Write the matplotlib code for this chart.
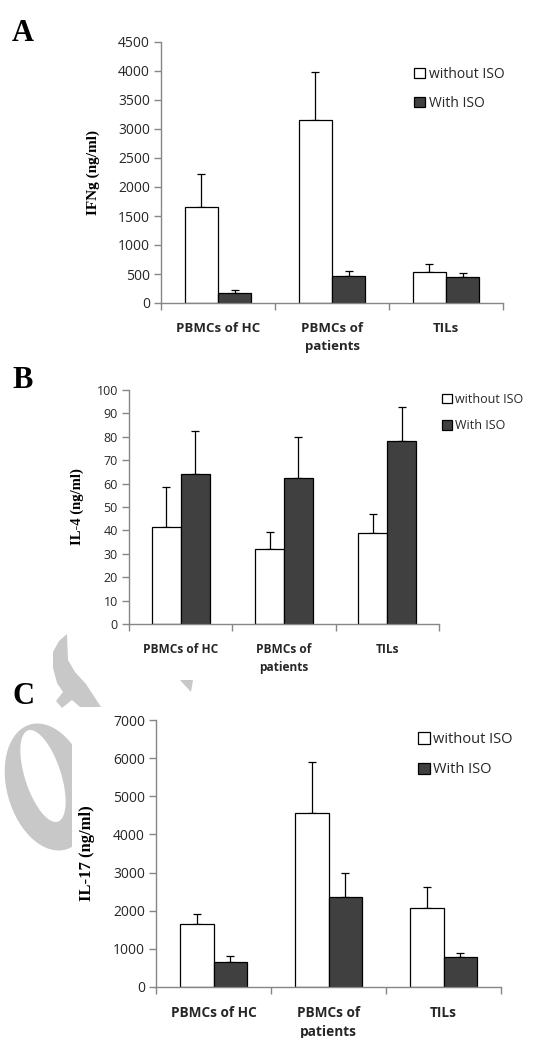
import matplotlib.pyplot as plt
from matplotlib.patches import Patch, Polygon, Rectangle, Ellipse

categories = ["PBMCs of HC", "PBMCs of\npatients", "TILs"]
series_names = ["without ISO", "With ISO"]

# panel A: IFNg
ifng_without = [1660, 3150, 540]
ifng_without_err = [565, 835, 130]
ifng_with = [165, 470, 440]
ifng_with_err = [60, 80, 75]

# panel B: IL-4
il4_without = [41.5, 32.2, 39.0]
il4_without_err = [17.2, 7.3, 8.2]
il4_with = [64.0, 62.5, 78.2]
il4_with_err = [18.6, 17.3, 14.7]

# panel C: IL-17
il17_without = [1640, 4560, 2065]
il17_without_err = [280, 1330, 560]
il17_with = [660, 2370, 790]
il17_with_err = [140, 620, 95]

W, H = 543, 1038
fig = plt.figure(figsize=(W / 100, H / 100), dpi=100)

AXIS_GRAY = "#868686"
TEXT = "#262626"
DARK = "#404040"
MARK = "#c8c8c8"


def fx(px):
    return px / W


def fy(py):
    return 1 - py / H


def inch(px, py):
    # pixel position from top-left -> inches from bottom-left
    return (px / 100, (H - py) / 100)


def px_axes(left, top, right, bottom):
    return fig.add_axes([fx(left), fy(bottom), (right - left) / W, (bottom - top) / H])


def panel(ax, without, without_err, with_, with_err, ymax, ystep, ylabel,
          barw, tick_fs, xlab_fs, ylab_fs, leg_fs, leg_pos, leg_space):
    x = range(len(categories))
    xl = [i - barw / 2 for i in x]
    xr = [i + barw / 2 for i in x]
    ax.bar(xl, without, barw, color="white", edgecolor="black", linewidth=0.9, zorder=2)
    ax.bar(xr, with_, barw, color=DARK, edgecolor="black", linewidth=0.9, zorder=2)
    ax.errorbar(xl, without, yerr=[[0] * 3, without_err], fmt="none", ecolor="black",
                elinewidth=0.9, capsize=3, capthick=0.9, zorder=1)
    ax.errorbar(xr, with_, yerr=[[0] * 3, with_err], fmt="none", ecolor="black",
                elinewidth=0.9, capsize=3, capthick=0.9, zorder=1)
    ax.set_xlim(-0.5, len(categories) - 0.5)
    ax.set_ylim(0, ymax)
    ax.set_yticks(range(0, ymax + 1, ystep))
    ax.set_xticks([-0.5, 0.5, 1.5, 2.5])
    ax.set_xticklabels([])
    ax.set_xticks(list(x), minor=True)
    ax.set_xticklabels(categories, minor=True, fontsize=xlab_fs, fontweight="bold",
                       family="Open Sans", color=TEXT, linespacing=1.45)
    ax.tick_params(axis="x", which="minor", length=0, pad=14)
    ax.tick_params(axis="x", which="major", length=5, width=1, color=AXIS_GRAY, direction="out")
    ax.tick_params(axis="y", length=5, width=1, color=AXIS_GRAY, labelsize=tick_fs,
                   labelcolor=TEXT, pad=3)
    for lab in ax.get_yticklabels():
        lab.set_family("Open Sans")
    for s in ["top", "right"]:
        ax.spines[s].set_visible(False)
    for s in ["left", "bottom"]:
        ax.spines[s].set_color(AXIS_GRAY)
        ax.spines[s].set_linewidth(1)
    ax.set_ylabel(ylabel, family="Liberation Serif", fontweight="bold", fontsize=ylab_fs)
    handles = [Patch(facecolor="white", edgecolor="black", linewidth=0.9, label=series_names[0]),
               Patch(facecolor=DARK, edgecolor="black", linewidth=0.9, label=series_names[1])]
    fig.legend(handles=handles, loc="upper left", bbox_to_anchor=(fx(leg_pos[0]), fy(leg_pos[1])),
               frameon=False, handlelength=0.8, handleheight=0.8, handletextpad=0.25,
               labelspacing=leg_space, borderaxespad=0, borderpad=0,
               prop={"family": "Open Sans", "size": leg_fs}, labelcolor=TEXT)


# faint watermark fragments behind the charts
tr = fig.dpi_scale_trans
fig.add_artist(Ellipse(inch(48, 787), 1.30, 0.82, angle=-74, transform=tr,
                       facecolor=MARK, edgecolor="none", zorder=-4))
fig.add_artist(Ellipse(inch(43, 776), 0.96, 0.36, angle=-72, transform=tr,
                       facecolor="white", edgecolor="none", zorder=-3))
fig.add_artist(Rectangle(inch(72, H), 5, (H - 707) / 100, transform=tr,
                         facecolor="white", edgecolor="none", zorder=-2))
frag = [(67, 634), (68, 660), (75, 672), (86, 684), (101, 707), (80, 707), (72, 700),
        (62, 708), (56, 701), (63, 692), (57, 683), (53, 668), (53, 652), (59, 641)]
fig.add_artist(Polygon([inch(a, b) for a, b in frag], closed=True, transform=tr,
                       facecolor=MARK, edgecolor="none", zorder=-1))
tri = [(180, 680), (193, 680), (191, 692)]
fig.add_artist(Polygon([inch(a, b) for a, b in tri], closed=True, transform=tr,
                       facecolor=MARK, edgecolor="none", zorder=-1))

axA = px_axes(161, 42, 503, 303)
panel(axA, ifng_without, ifng_without_err, ifng_with, ifng_with_err, 4500, 500,
      "IFNg (ng/ml)", 0.29, 10, 9.5, 11, 10, (414, 67), 1.0)
axA.yaxis.set_label_coords(-0.178, 0.5)

axB = px_axes(129, 390, 439, 624)
panel(axB, il4_without, il4_without_err, il4_with, il4_with_err, 100, 10,
      "IL-4 (ng/ml)", 0.28, 9, 8.6, 10.5, 9, (442, 393), 1.05)
axB.yaxis.set_label_coords(-0.145, 0.5)

axC = px_axes(156, 720, 501, 987)
panel(axC, il17_without, il17_without_err, il17_with, il17_with_err, 7000, 1000,
      "IL-17 (ng/ml)", 0.29, 10, 9.8, 12, 10.5, (418, 732), 1.05)
axC.yaxis.set_label_coords(-0.177, 0.5)

for letter, (px, py) in {"A": (12, 19), "B": (12, 366), "C": (12, 682)}.items():
    fig.text(fx(px), fy(py), letter, family="Liberation Serif", fontweight="bold",
             fontsize=22, va="top", ha="left", color="black")

fig.savefig("out.png", dpi=100)
